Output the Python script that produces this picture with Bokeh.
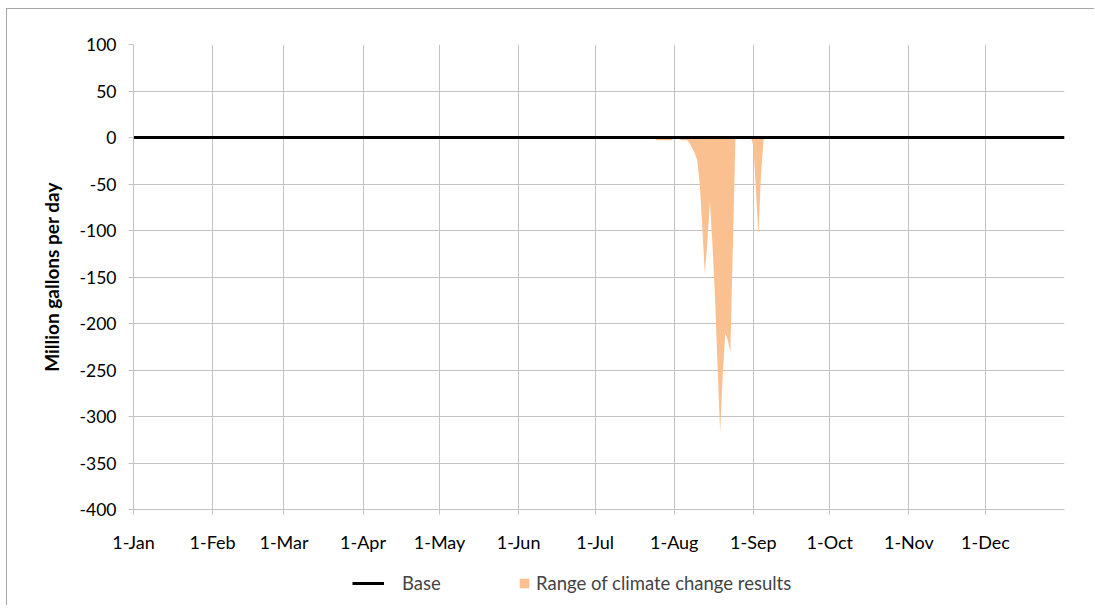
from bokeh.plotting import figure
from bokeh.layouts import column
from bokeh.models import ColumnDataSource, FixedTicker, Legend, LegendItem
from bokeh.embed import file_html
from bokeh.resources import INLINE

# ---- data ----
month_starts = [0, 31, 59, 90, 120, 151, 181, 212, 243, 273, 304, 334]
month_labels = ["1-Jan", "1-Feb", "1-Mar", "1-Apr", "1-May", "1-Jun",
                "1-Jul", "1-Aug", "1-Sep", "1-Oct", "1-Nov", "1-Dec"]
y_ticks = [100, 50, 0, -50, -100, -150, -200, -250, -300, -350, -400]

base_days = [0, 365]
base_values = [0, 0]

range_days = list(range(203, 249))
range_low = [0, 0, -3, -3, -3, -3, -3, -3, -3, -1, -1, -2, -3, -3, -3, -6,
             -11, -17, -24, -50, -97, -147, -112, -69, -116, -173, -248, -318,
             -255, -211, -218, -231, -115, 0, 0, 0, 0, 0, 0, 0, -8, -55, -105,
             -40, -3, 0]
range_high = [0] * len(range_days)

FONT = "Lato"
GRID = "#C3C3C3"
ORANGE = "#FAC090"
FS = "18px"

p = figure(width=1087, height=556, output_backend="svg", toolbar_location=None,
           x_range=(0, 365), y_range=(-400, 100),
           min_border_left=126, min_border_right=30, min_border_top=35,
           min_border_bottom=56)
p.outline_line_color = None
p.background_fill_color = "white"

src = ColumnDataSource(dict(x=range_days, lo=range_low, hi=range_high))
p.varea(x="x", y1="lo", y2="hi", source=src, fill_color=ORANGE, fill_alpha=1.0)
p.line(base_days, base_values, line_color="black", line_width=3)

# axes
xa = p.xaxis[0]
xa.ticker = FixedTicker(ticks=month_starts)
xa.major_label_overrides = {m: l for m, l in zip(month_starts, month_labels)}
xa.axis_line_color = GRID
xa.major_tick_line_color = GRID
xa.major_tick_out = 5
xa.major_tick_in = 0
xa.minor_tick_line_color = None
xa.major_label_standoff = 16
xa.major_label_text_font = FONT
xa.major_label_text_font_size = FS
xa.major_label_text_color = "black"

ya = p.yaxis[0]
ya.ticker = FixedTicker(ticks=y_ticks)
ya.major_label_overrides = {v: str(v) for v in y_ticks}
ya.axis_line_color = GRID
ya.major_tick_line_color = GRID
ya.major_tick_out = 5
ya.major_tick_in = 0
ya.minor_tick_line_color = None
ya.major_label_standoff = 12
ya.major_label_text_font = FONT
ya.major_label_text_font_size = "17.5px"
ya.major_label_text_color = "black"
ya.axis_label = "Million gallons per day"
ya.axis_label_text_font = FONT
ya.axis_label_text_font_size = "19px"
ya.axis_label_text_font_style = "bold"
ya.axis_label_text_color = "black"
ya.axis_label_standoff = 14

p.xgrid.ticker = FixedTicker(ticks=month_starts)
p.ygrid.ticker = FixedTicker(ticks=y_ticks)
p.xgrid.grid_line_color = GRID
p.ygrid.grid_line_color = GRID

# ---- legend strip below the chart (its frame is aligned with the chart's) ----
pl = figure(width=1087, height=40, output_backend="svg", toolbar_location=None,
            x_range=(0, 365), y_range=(1, 2), min_border=0)
pl.axis.visible = False
pl.grid.visible = False
pl.outline_line_color = None
# same series, drawn outside this strip's visible range: only their legend swatches show
leg_base = pl.line(base_days, base_values, line_color="black", line_width=3)
leg_range = pl.varea(x=range_days, y1=range_low, y2=range_high,
                     fill_color=ORANGE, fill_alpha=1.0)

LFS = "18.5px"
leg1 = Legend(items=[LegendItem(label="Base", renderers=[leg_base])],
              location=(219, 11), orientation="horizontal",
              glyph_width=32, glyph_height=20, label_standoff=18,
              label_height=20, padding=0, margin=0, border_line_color=None,
              background_fill_alpha=0,
              label_text_font=FONT, label_text_font_size=LFS)
leg2 = Legend(items=[LegendItem(label="Range of climate change results", renderers=[leg_range])],
              location=(385, 11), orientation="horizontal",
              glyph_width=12, glyph_height=12, label_standoff=6,
              label_height=20, padding=0, margin=0, border_line_color=None,
              background_fill_alpha=0,
              label_text_font=FONT, label_text_font_size=LFS)
pl.add_layout(leg1, "center")
pl.add_layout(leg2, "center")

layout = column(p, pl, spacing=0,
                styles={"margin-left": "6px", "margin-top": "8px",
                        "border-left": "1px solid #A6A6A6",
                        "border-top": "1px solid #A6A6A6"})

open("out.html", "w").write(file_html(layout, INLINE))
